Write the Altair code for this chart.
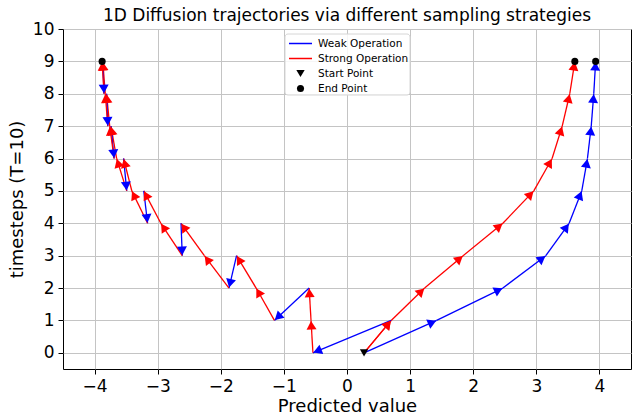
import math
import altair as alt
import pandas as pd

# ---- data ----
T = list(range(10))
WEAK_X = [0.27, 1.42, 2.47, 3.15, 3.52, 3.72, 3.81, 3.87, 3.91, 3.94]
STRONG_X = [0.27, 0.70, 1.23, 1.84, 2.47, 2.96, 3.25, 3.41, 3.53, 3.61]
MIXED_T = [0, 1, 0, 1, 2, 1, 2, 3, 2, 3, 4, 3, 4, 5, 4, 5, 6, 5, 6, 7, 6, 7, 8, 7, 8, 9, 8, 9]
MIXED_X = [0.27, 0.70, -0.54, -0.57, -0.60, -1.15, -1.44, -1.75, -1.87, -2.26,
           -2.63, -2.61, -2.95, -3.22, -3.16, -3.41, -3.54, -3.49, -3.65, -3.74,
           -3.69, -3.76, -3.81, -3.79, -3.83, -3.87, -3.85, -3.88]
START_X = [0.27]
START_T = [0]
END_X = [-3.88, 3.61, 3.94]
END_T = [9, 9, 9]

KINDS = ["Weak Operation", "Strong Operation", "Start Point", "End Point"]
COLORS = ["#0000ff", "#ff0000", "#000000", "#000000"]
SHAPES = ["stroke", "stroke", "triangle-down", "circle"]
X_TICKS = list(range(-4, 5))
Y_TICKS = list(range(0, 11))

# ---- layout constants ----
W, H = 568, 340
XDOM = [-4.5, 4.5]
YDOM = [-0.5, 10]
PXX = W / (XDOM[1] - XDOM[0])
PXY = H / (YDOM[1] - YDOM[0])
HEAD = 100
HEAD_H = 0.866 * math.sqrt(HEAD) / 2 + 0.5
FONT = "DejaVu Sans"

segs = []
def add_path(xs, ts, kinds):
    for i in range(len(xs) - 1):
        segs.append(dict(x=xs[i], y=ts[i], x2=xs[i + 1], y2=ts[i + 1], kind=kinds[i]))

add_path(WEAK_X, T, ["Weak Operation"] * 9)
add_path(STRONG_X, T, ["Strong Operation"] * 9)
mixed_kinds = ["Strong Operation" if MIXED_T[i + 1] > MIXED_T[i] else "Weak Operation"
               for i in range(len(MIXED_T) - 1)]
add_path(MIXED_X, MIXED_T, mixed_kinds)
seg_df = pd.DataFrame(segs)

heads = []
for s in segs:
    dxp = (s["x2"] - s["x"]) * PXX
    dyp = (s["y2"] - s["y"]) * PXY
    L = math.hypot(dxp, dyp)
    ux, uy = dxp / L, dyp / L
    ang = math.degrees(math.atan2(dxp, dyp)) % 360
    heads.append(dict(x=s["x2"] - HEAD_H * ux / PXX, y=s["y2"] - HEAD_H * uy / PXY,
                      ang=ang, kind=s["kind"]))
head_df = pd.DataFrame(heads)

pts_df = pd.DataFrame(
    [dict(x=x, y=t, kind="Start Point") for x, t in zip(START_X, START_T)]
    + [dict(x=x, y=t, kind="End Point") for x, t in zip(END_X, END_T)]
)

xs = alt.Scale(domain=XDOM, nice=False, zero=False)
ys = alt.Scale(domain=YDOM, nice=False, zero=False)
cscale = alt.Scale(domain=KINDS, range=COLORS)
sscale = alt.Scale(domain=KINDS, range=SHAPES)
zscale = alt.Scale(type="ordinal", domain=KINDS, range=[100, 100, 70, 50])

X_AXIS = alt.Axis(values=X_TICKS, title="Predicted value", format="d", titlePadding=3)
Y_AXIS = alt.Axis(values=Y_TICKS, title="timesteps (T=10)", format="d", titlePadding=6,
                  labelOverlap=False)
X_ENC = alt.X("x:Q", scale=xs, axis=X_AXIS)
Y_ENC = alt.Y("y:Q", scale=ys, axis=Y_AXIS)

rules = alt.Chart(seg_df).mark_rule(strokeWidth=1.3).encode(
    x=X_ENC, y=Y_ENC, x2="x2:Q", y2="y2:Q",
    color=alt.Color("kind:N", scale=cscale, legend=None),
)

arrows = alt.Chart(head_df).mark_point(shape="triangle-up", filled=True, opacity=1, size=HEAD).encode(
    x=X_ENC, y=Y_ENC,
    angle=alt.Angle("ang:Q", scale=None),
    color=alt.Color("kind:N", scale=cscale, legend=None),
)

points = alt.Chart(pts_df).mark_point(filled=True, opacity=1).encode(
    x=X_ENC, y=Y_ENC,
    color=alt.Color("kind:N", scale=cscale, legend=None),
    shape=alt.Shape("kind:N", scale=sscale, legend=None),
    size=alt.Size("kind:N", scale=zscale, legend=None),
)

# ---- legend box (pixel layout inside the plot area) ----
LEG_LEFT, LEG_TOP, LEG_RIGHT, LEG_BOTTOM = 222, 5, 347, 66
ROW0, ROW_STEP = 14.5, 15
leg_df = pd.DataFrame({"kind": KINDS})

leg_layers = [
    alt.Chart(pd.DataFrame({"k": [0]})).mark_rect(
        fill="white", fillOpacity=0.85, stroke="#d6d6d6", strokeWidth=1, cornerRadius=3
    ).encode(
        x=alt.value(LEG_LEFT), x2=alt.value(LEG_RIGHT), y=alt.value(LEG_TOP), y2=alt.value(LEG_BOTTOM)
    )
]
for i, kind in enumerate(KINDS):
    yy = ROW0 + ROW_STEP * i
    row = alt.Chart(leg_df).transform_filter(alt.datum.kind == kind)
    if SHAPES[i] == "stroke":
        leg_layers.append(row.mark_rule(strokeWidth=1.5).encode(
            x=alt.value(LEG_LEFT + 4), x2=alt.value(LEG_LEFT + 27), y=alt.value(yy),
            color=alt.Color("kind:N", scale=cscale, legend=None),
        ))
    else:
        leg_layers.append(row.mark_point(filled=True, opacity=1).encode(
            x=alt.value(LEG_LEFT + 15.5), y=alt.value(yy),
            color=alt.Color("kind:N", scale=cscale, legend=None),
            shape=alt.Shape("kind:N", scale=sscale, legend=None),
            size=alt.Size("kind:N", scale=zscale, legend=None),
        ))
    leg_layers.append(row.mark_text(
        align="left", baseline="middle", font=FONT, fontSize=10.5, color="black"
    ).encode(x=alt.value(LEG_LEFT + 33), y=alt.value(yy), text="kind:N"))

chart = alt.layer(rules, arrows, points, *leg_layers).properties(
    width=W, height=H,
    autosize="none",
    padding={"left": 63, "top": 29, "right": 1, "bottom": 45},
    title=alt.Title("1D Diffusion trajectories via different sampling strategies",
                    font=FONT, fontSize=17, fontWeight="normal", color="black",
                    anchor="middle", offset=-5),
).configure_view(
    stroke="black", strokeWidth=1
).configure_axis(
    labelFont=FONT, titleFont=FONT, labelFontSize=17, titleFontSize=18,
    labelColor="black", titleColor="black", titleFontWeight="normal",
    tickColor="black", tickSize=5, tickWidth=1, domain=False,
    gridColor="#c4c4c4", gridWidth=1, labelPadding=4,
)

chart.save("out.html", embed_options={"renderer": "svg", "actions": False})
